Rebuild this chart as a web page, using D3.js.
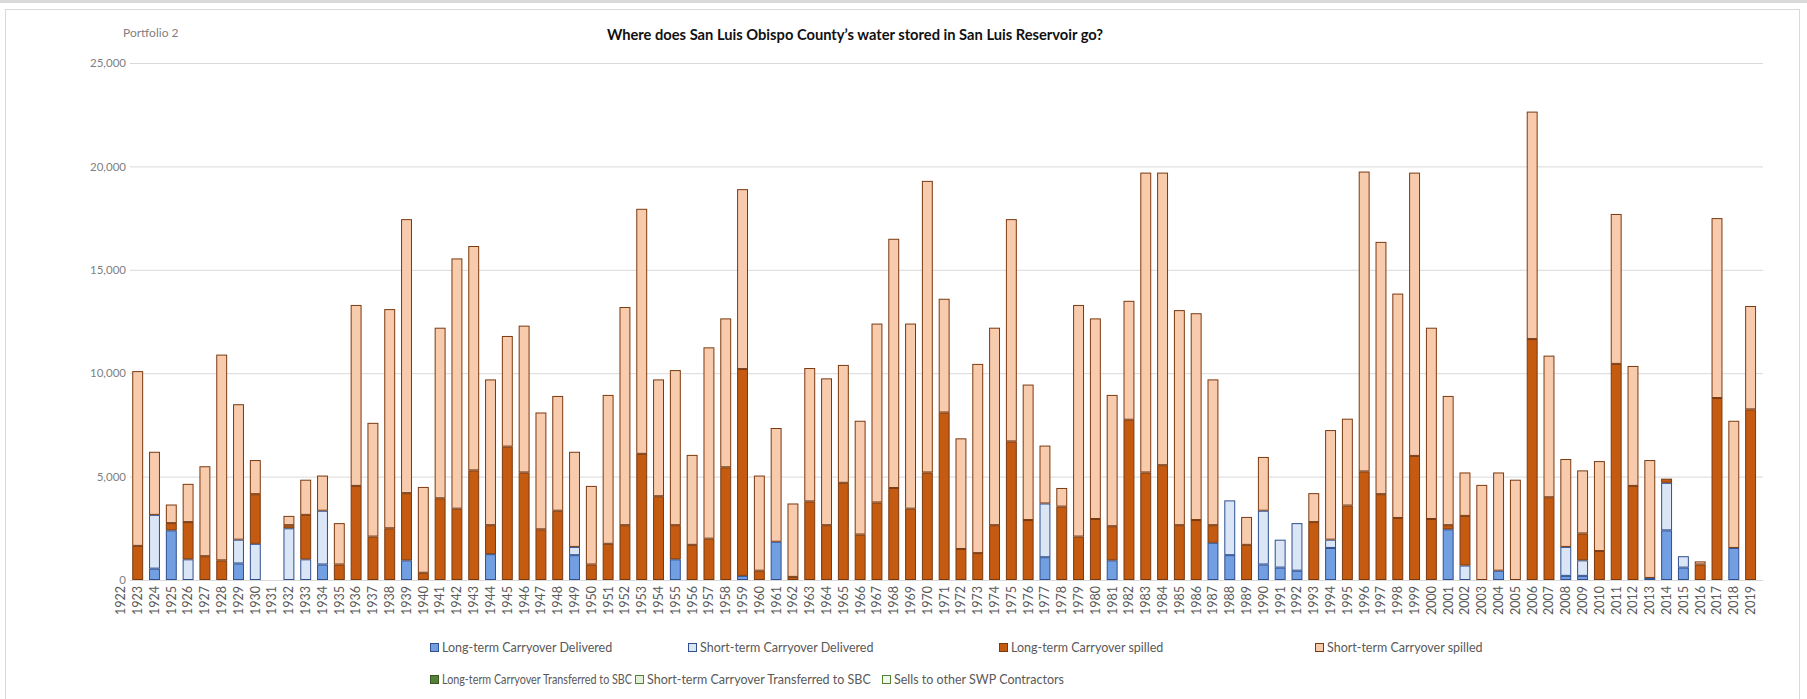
<!DOCTYPE html>
<html>
<head>
<meta charset="utf-8">
<script src="https://cdn.jsdelivr.net/npm/d3@7"></script>
<style>
  html, body { margin: 0; padding: 0; background: #fff; }
  svg { display: block; }
</style>
</head>
<body>
<div id="chart"></div>
<script>
// --- data (acre-feet) ---
const years = [
  1922, 1923, 1924, 1925, 1926, 1927, 1928, 1929, 1930, 1931,
  1932, 1933, 1934, 1935, 1936, 1937, 1938, 1939, 1940, 1941,
  1942, 1943, 1944, 1945, 1946, 1947, 1948, 1949, 1950, 1951,
  1952, 1953, 1954, 1955, 1956, 1957, 1958, 1959, 1960, 1961,
  1962, 1963, 1964, 1965, 1966, 1967, 1968, 1969, 1970, 1971,
  1972, 1973, 1974, 1975, 1976, 1977, 1978, 1979, 1980, 1981,
  1982, 1983, 1984, 1985, 1986, 1987, 1988, 1989, 1990, 1991,
  1992, 1993, 1994, 1995, 1996, 1997, 1998, 1999, 2000, 2001,
  2002, 2003, 2004, 2005, 2006, 2007, 2008, 2009, 2010, 2011,
  2012, 2013, 2014, 2015, 2016, 2017, 2018, 2019
];

// Long-term Carryover Delivered
const longDelivered = [
  0, 0, 550, 2400, 0, 0, 0, 800, 0, 0,
  0, 0, 750, 0, 0, 0, 0, 950, 0, 0,
  0, 0, 1250, 0, 0, 0, 0, 1200, 0, 0,
  0, 0, 0, 1000, 0, 0, 0, 200, 0, 1850,
  0, 0, 0, 0, 0, 0, 0, 0, 0, 0,
  0, 0, 0, 0, 0, 1100, 0, 0, 0, 950,
  0, 0, 0, 0, 0, 1800, 1200, 0, 750, 600,
  450, 0, 1550, 0, 0, 0, 0, 0, 0, 2450,
  0, 0, 450, 0, 0, 0, 200, 200, 0, 0,
  0, 100, 2400, 600, 0, 0, 1550, 0
];

// Short-term Carryover Delivered
const shortDelivered = [
  0, 0, 2600, 0, 1000, 0, 0, 1150, 1750, 0,
  2500, 1000, 2600, 0, 0, 0, 0, 0, 0, 0,
  0, 0, 0, 0, 0, 0, 0, 400, 0, 0,
  0, 0, 0, 0, 0, 0, 0, 0, 0, 0,
  0, 0, 0, 0, 0, 0, 0, 0, 0, 0,
  0, 0, 0, 0, 0, 2600, 0, 0, 0, 0,
  0, 0, 0, 0, 0, 0, 2650, 0, 2600, 1350,
  2300, 0, 400, 0, 0, 0, 0, 0, 0, 0,
  700, 0, 0, 0, 0, 0, 1400, 750, 0, 0,
  0, 0, 2300, 550, 0, 0, 0, 0
];

// Long-term Carryover spilled
const longSpilled = [
  0, 1650, 0, 350, 1800, 1150, 950, 0, 2400, 0,
  150, 2150, 0, 750, 4550, 2100, 2500, 3250, 350, 3950,
  3450, 5300, 1400, 6450, 5200, 2450, 3350, 0, 750, 1750,
  2650, 6100, 4050, 1650, 1700, 2000, 5450, 10000, 450, 0,
  150, 3800, 2650, 4700, 2200, 3750, 4450, 3450, 5200, 8100,
  1500, 1300, 2650, 6700, 2900, 0, 3550, 2100, 2950, 1650,
  7750, 5200, 5550, 2650, 2900, 850, 0, 1700, 0, 0,
  0, 2800, 0, 3600, 5250, 4150, 3000, 6000, 2950, 200,
  2400, 0, 0, 0, 11650, 4000, 0, 1300, 1400, 10450,
  4550, 0, 200, 0, 750, 8800, 0, 8250
];

// Short-term Carryover spilled
const shortSpilled = [
  0, 8450, 3050, 900, 1850, 4350, 9950, 6550, 1650, 0,
  450, 1700, 1700, 2000, 8750, 5500, 10600, 13250, 4150, 8250,
  12100, 10850, 7050, 5350, 7100, 5650, 5550, 4600, 3800, 7200,
  10550, 11850, 5650, 7500, 4350, 9250, 7200, 8700, 4600, 5500,
  3550, 6450, 7100, 5700, 5500, 8650, 12050, 8950, 14100, 5500,
  5350, 9150, 9550, 10750, 6550, 2800, 900, 11200, 9700, 6350,
  5750, 14500, 14150, 10400, 10000, 7050, 0, 1350, 2600, 0,
  0, 1400, 5300, 4200, 14500, 12200, 10850, 13700, 9250, 6250,
  2100, 4600, 4750, 4850, 11000, 6850, 4250, 3050, 4350, 7250,
  5800, 5700, 0, 0, 150, 8700, 6150, 5000
];

const yTicks = [0, 5000, 10000, 15000, 20000, 25000];

// series shown in the legend (the green ones carry no water in this portfolio)
const legendRows = [
  ["Long-term Carryover Delivered", "Short-term Carryover Delivered", "Long-term Carryover spilled", "Short-term Carryover spilled"],
  ["Long-term Carryover Transferred to SBC", "Short-term Carryover Transferred to SBC", "Sells to other SWP Contractors"]
];

// --- styles ---
const seriesStyle = {
  "Long-term Carryover Delivered":           { fill: "#729fe2", stroke: "#2f4f8f" },
  "Short-term Carryover Delivered":          { fill: "#dae5f6", stroke: "#2f4f8f" },
  "Long-term Carryover spilled":             { fill: "#c55a11", stroke: "#7a3a10" },
  "Short-term Carryover spilled":            { fill: "#f8cbad", stroke: "#7a3a10" },
  "Long-term Carryover Transferred to SBC":  { fill: "#548235", stroke: "#385723" },
  "Short-term Carryover Transferred to SBC": { fill: "#e2f0d9", stroke: "#548235" },
  "Sells to other SWP Contractors":          { fill: "#f2f7ee", stroke: "#548235" }
};

const width = 1807;
const height = 699;
// gridlines run over grid.left..grid.right, the bars sit in band.left..band.right
const grid = { left: 130, right: 1763 };
const band = { left: 112.5, right: 1759 };
const plot = { top: 63, bottom: 580 };
const font = "Lato, 'Open Sans', sans-serif";

const svg = d3.select("#chart").append("svg")
  .attr("width", width)
  .attr("height", height)
  .style("font-family", font);

// frame
svg.append("rect").attr("x", 0).attr("y", 0).attr("width", width).attr("height", 3).attr("fill", "#d9d9d9");
svg.append("rect")
  .attr("x", 5.5).attr("y", 9.5)
  .attr("width", 1794).attr("height", 700)
  .attr("fill", "#fff")
  .attr("stroke", "#d9d9d9");

// rows for stacking
const keys = ["Long-term Carryover Delivered", "Short-term Carryover Delivered", "Long-term Carryover spilled", "Short-term Carryover spilled"];
const columns = [longDelivered, shortDelivered, longSpilled, shortSpilled];
const rows = years.map((yr, i) => {
  const r = { year: yr };
  keys.forEach((k, j) => { r[k] = columns[j][i]; });
  return r;
});
const stacked = d3.stack().keys(keys)(rows);

// scales
const x = d3.scaleBand()
  .domain(years)
  .range([band.left, band.right])
  .paddingInner(0.35)
  .paddingOuter(0.175);

const y = d3.scaleLinear()
  .domain([0, 25000])
  .range([plot.bottom, plot.top]);

// gridlines
const yAxis = d3.axisLeft(y)
  .tickValues(yTicks)
  .tickSize(-(grid.right - grid.left))
  .tickPadding(4)
  .tickFormat(d3.format(","));

svg.append("g")
  .attr("transform", `translate(${grid.left},0)`)
  .call(yAxis)
  .call(g => g.select(".domain").remove())
  .call(g => g.selectAll(".tick line").attr("stroke", "#d9d9d9"))
  .call(g => g.selectAll(".tick text")
    .attr("fill", "#7f7f7f")
    .style("font-size", "11.5px")
    .style("font-family", font));

// bars
svg.append("g")
  .selectAll("g")
  .data(stacked)
  .join("g")
    .attr("fill", d => seriesStyle[d.key].fill)
    .attr("stroke", d => seriesStyle[d.key].stroke)
    .attr("stroke-width", 1)
  .selectAll("rect")
  .data(d => d.filter(s => s[1] - s[0] > 0))
  .join("rect")
    .attr("x", d => x(d.data.year) + 0.5)
    .attr("y", d => y(d[1]) + 0.5)
    .attr("width", x.bandwidth() - 1)
    .attr("height", d => Math.max(0, y(d[0]) - y(d[1]) - 1));

// category axis
svg.append("line")
  .attr("x1", grid.left).attr("x2", grid.right)
  .attr("y1", plot.bottom + 0.5).attr("y2", plot.bottom + 0.5)
  .attr("stroke", "#d9d9d9");

const xAxis = d3.axisBottom(x).tickSize(0).tickPadding(6);
svg.append("g")
  .attr("transform", `translate(0,${plot.bottom})`)
  .call(xAxis)
  .call(g => g.select(".domain").remove())
  .call(g => g.selectAll(".tick text")
    .attr("fill", "#595959")
    .style("font-size", "12.5px")
    .style("font-family", font)
    .attr("text-anchor", "end")
    .attr("transform", "rotate(-90)")
    .attr("x", -6)
    .attr("y", 0)
    .attr("dy", "0.35em"));

// titles
svg.append("text")
  .attr("x", 123).attr("y", 37)
  .attr("fill", "#7f7f7f")
  .style("font-size", "12px")
  .text("Portfolio 2");

svg.append("text")
  .attr("x", 855).attr("y", 40)
  .attr("text-anchor", "middle")
  .attr("fill", "#111")
  .style("font-size", "14.7px")
  .style("font-weight", "bold")
  .text("Where does San Luis Obispo County\u2019s water stored in San Luis Reservoir go?");

// legend
const legendX = [[430, 688, 999, 1315], [430, 635, 882]];
const legendY = [648, 680];
legendRows.forEach((row, r) => {
  row.forEach((name, c) => {
    const g = svg.append("g").attr("transform", `translate(${legendX[r][c]},${legendY[r]})`);
    g.append("rect")
      .attr("x", 0.5).attr("y", -4.5)
      .attr("width", 8).attr("height", 8)
      .attr("fill", seriesStyle[name].fill)
      .attr("stroke", seriesStyle[name].stroke);
    const label = g.append("text")
      .attr("x", 12).attr("y", 0)
      .attr("dy", "0.35em")
      .attr("fill", "#595959")
      .style("font-size", "12.5px")
      .text(name);
    // row 2 is packed tight: squeeze a label that would run into its neighbour
    const next = legendX[r][c + 1];
    if (next !== undefined) {
      const room = next - legendX[r][c] - 15;
      if (label.node().getComputedTextLength() > room) {
        label.attr("textLength", room).attr("lengthAdjust", "spacingAndGlyphs");
      }
    }
  });
});
</script>
</body>
</html>
